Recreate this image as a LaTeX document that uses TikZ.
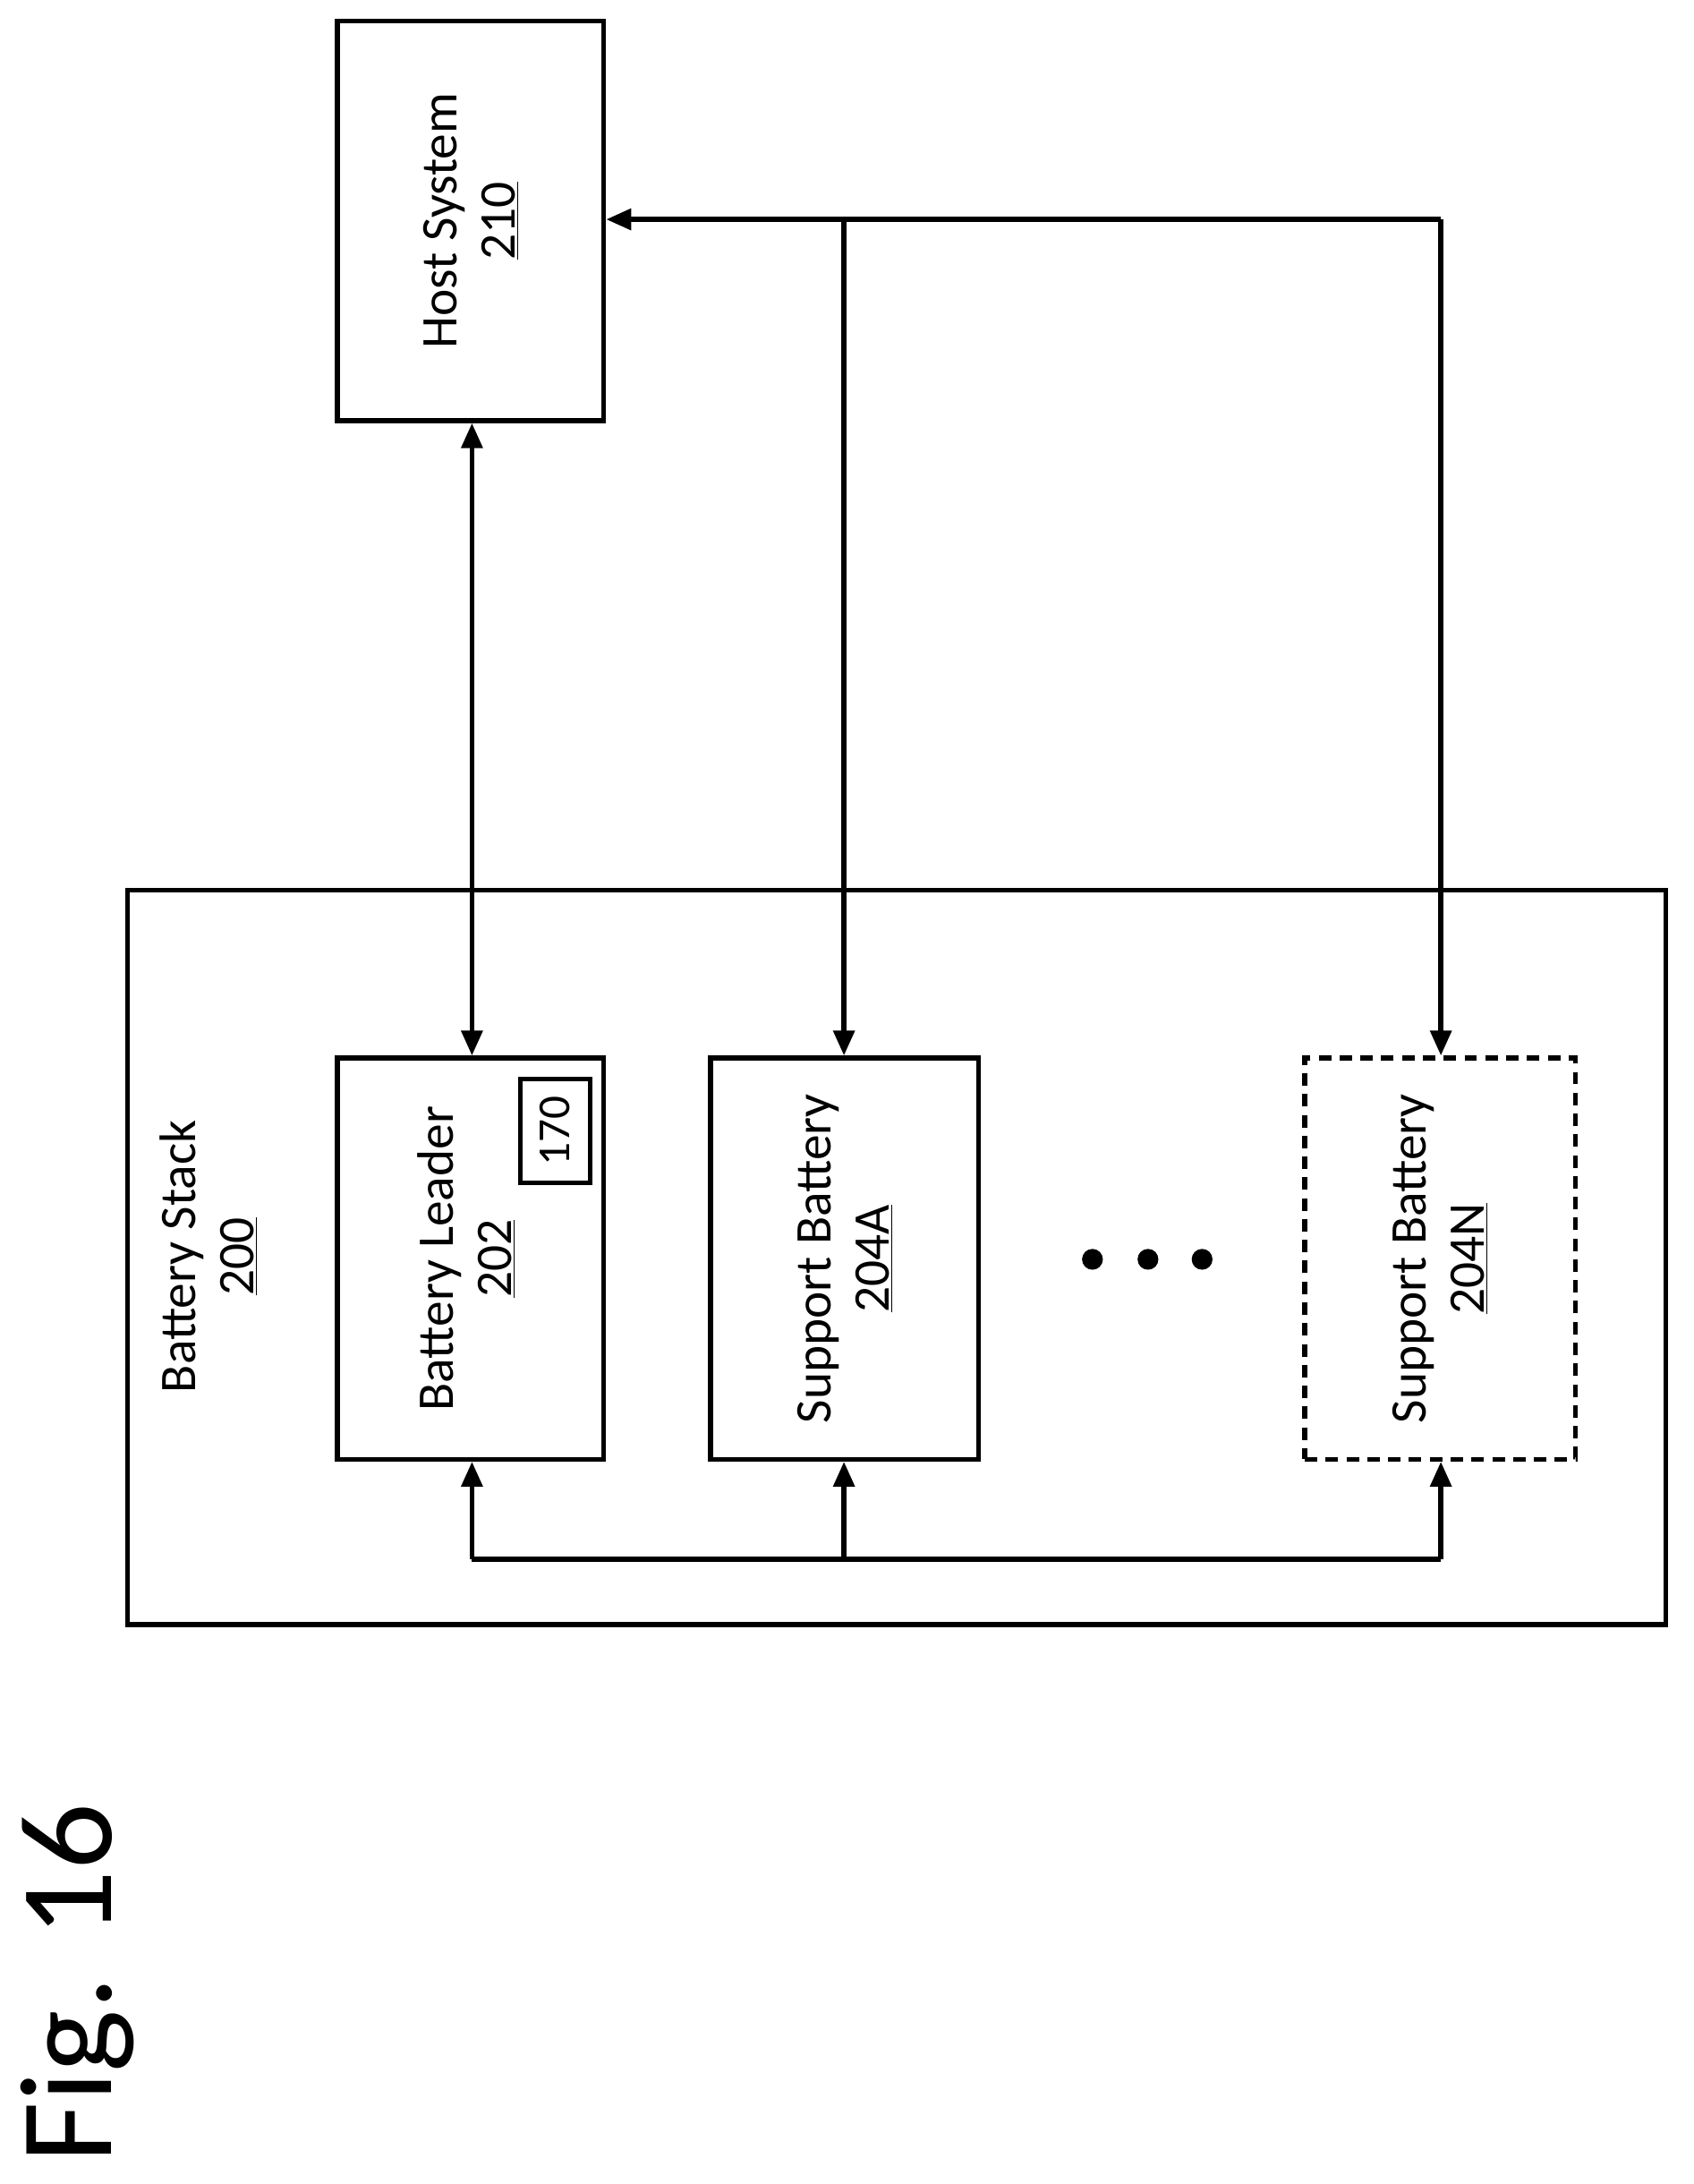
\documentclass[tikz,border=0pt]{standalone}
\usepackage{fontspec}
\setmainfont{Carlito}
\usetikzlibrary{arrows.meta}
\begin{document}
\begin{tikzpicture}[x=1pt,y=-1pt,
  box/.style={draw,line width=3.5pt,inner sep=0pt},
  lbl/.style={rotate=90,align=center,font=\fontsize{37}{42}\selectfont},
  arr/.style={line width=3.5pt,-{Triangle[length=18pt,width=15pt]}},
  darr/.style={line width=3.5pt,{Triangle[length=18pt,width=15pt]}-{Triangle[length=18pt,width=15pt]}}]
\useasboundingbox (0,0) rectangle (1220,1573);
\node[box,minimum width=192pt,minimum height=288pt] (host) at (339,159) {};
\node[lbl] at (host.center) {Host System\\\underline{210}};
\node[box,minimum width=1108pt,minimum height=529pt] (stack) at (646,905.5) {};
\node[lbl] at (150,905) {Battery Stack\\\underline{200}};
\node[box,minimum width=192pt,minimum height=289pt] (lead) at (339,906.5) {};
\node[lbl] at (336,906.5) {Battery Leader\\\underline{202}};
\node[box,minimum width=50pt,minimum height=75pt] (s170) at (400,814.5) {};
\node[lbl,font=\fontsize{33}{38}\selectfont] at (s170.center) {170};
\node[box,minimum width=193pt,minimum height=289pt] (sa) at (608.5,906.5) {};
\node[lbl] at (sa.center) {Support Battery\\\underline{204A}};
\node[box,dashed,dash pattern=on 9pt off 6pt,minimum width=195pt,minimum height=289pt] (sn) at (1037.5,906.5) {};
\node[lbl] at (sn.center) {Support Battery\\\underline{204N}};
\foreach \i/\x in {1/787,2/827,3/866} \node[circle,fill,inner sep=0pt,minimum size=15pt] (d\i) at (\x,907) {};
\coordinate (bl) at (340,1123); \coordinate (bm) at (608,1123); \coordinate (br) at (1038,1123);
\draw[line width=3.5pt] (bl) -- (br);
\draw[arr] (bl) -- (bl|-lead.south);
\draw[arr] (bm) -- (bm|-sa.south);
\draw[arr] (br) -- (br|-sn.south);
\draw[darr] (host.south -| bl) -- (lead.north -| bl);
\coordinate (tm) at (608,158); \coordinate (tr) at (1038,158);
\draw[arr] (tr) -- (tr -| host.east);
\draw[arr] (tm) -- (tm|-sa.north);
\draw[arr] (tr) -- (tr|-sn.north);
\node[rotate=90,anchor=base west,font=\fontsize{95}{110}\selectfont,inner sep=0pt] (fig) at (80,1558) {Fig. 16};
\end{tikzpicture}
\end{document}
